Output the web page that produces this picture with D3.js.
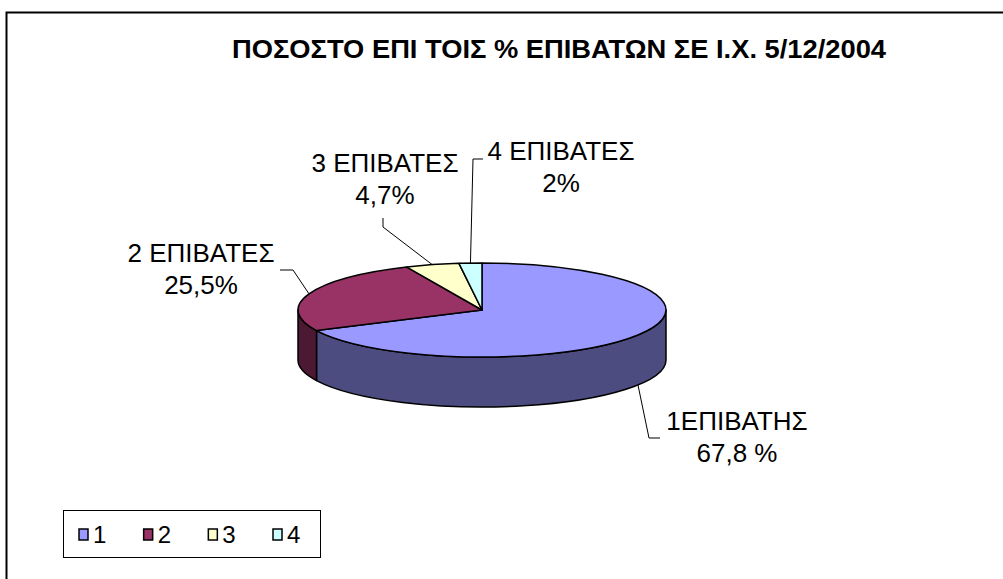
<!DOCTYPE html>
<html>
<head>
<meta charset="utf-8">
<script src="https://cdn.jsdelivr.net/npm/d3@7"></script>
<style>
body { margin: 0; background: #fff; }
svg { display: block; }
text { font-family: "Liberation Sans", Arial, sans-serif; fill: #000; }
</style>
</head>
<body>
<svg width="1003" height="579"></svg>
<script>
// data
var categories = ["1", "2", "3", "4"];
var values = [67.8, 25.5, 4.7, 2];
var labelNames = ["1ΕΠΙΒΑΤΗΣ", "2 ΕΠΙΒΑΤΕΣ", "3 ΕΠΙΒΑΤΕΣ", "4 ΕΠΙΒΑΤΕΣ"];
var labelValues = ["67,8 %", "25,5%", "4,7%", "2%"];
var title = "ΠΟΣΟΣΤΟ ΕΠΙ ΤΟΙΣ % ΕΠΙΒΑΤΩΝ ΣΕ Ι.Χ. 5/12/2004";

var topColors = ["#9999ff", "#993366", "#ffffcc", "#ccffff"];
var sideColors = ["#4c4c80", "#4c1933", "#808066", "#668080"];

// label layout (text centre, first baseline, leader elbow and end)
var labelLayout = [
    {x: 737, y: 430, elbow: [649, 438], end: [660, 438]},
    {x: 201, y: 262, elbow: [293, 270], end: [280, 270]},
    {x: 385, y: 172, elbow: [383, 227], end: [383, 218]},
    {x: 561, y: 160, elbow: [473, 159], end: [483, 159]}
];

var svg = d3.select("svg");
var cx = 482, cy = 310, rx = 184, ry = 47, depth = 50;

// chart border
svg.append("rect")
    .attr("x", 6.5).attr("y", 12.5)
    .attr("width", 1010).attr("height", 600)
    .style("fill", "none").style("stroke", "#000").style("stroke-width", 2);

svg.append("text")
    .attr("x", 559).attr("y", 58)
    .attr("text-anchor", "middle")
    .attr("textLength", 654).attr("lengthAdjust", "spacingAndGlyphs")
    .style("font-size", "26px").style("font-weight", "bold")
    .text(title);

var pie = d3.pie().sort(null).value(function (d) { return d; });
var arcs = pie(values);

function pt(t, dy) {
    return [cx + rx * Math.sin(t), cy - ry * Math.cos(t) + (dy || 0)];
}

// side walls (front half only)
var sides = svg.append("g");
arcs.forEach(function (d, i) {
    var a = Math.max(d.startAngle, Math.PI / 2),
        b = Math.min(d.endAngle, 3 * Math.PI / 2);
    if (b <= a) return;
    var large = (b - a) > Math.PI ? 1 : 0;
    var p0 = pt(a), p1 = pt(b), p2 = pt(b, depth), p3 = pt(a, depth);
    var path = "M" + p0 + "A" + rx + "," + ry + " 0 " + large + " 1 " + p1 +
        "L" + p2 + "A" + rx + "," + ry + " 0 " + large + " 0 " + p3 + "Z";
    sides.append("path")
        .attr("d", path)
        .style("fill", sideColors[i])
        .style("stroke", "#000").style("stroke-width", 1.5)
        .style("stroke-linejoin", "round");
});

// tops
var arc = d3.arc().innerRadius(0).outerRadius(rx);
svg.append("g")
    .attr("transform", "translate(" + cx + "," + cy + ") scale(1," + (ry / rx) + ")")
    .selectAll("path")
    .data(arcs)
    .enter()
    .append("path")
    .attr("d", arc)
    .attr("vector-effect", "non-scaling-stroke")
    .style("fill", function (d, i) { return topColors[i]; })
    .style("stroke", "#000").style("stroke-width", 1.5)
    .style("stroke-linejoin", "round");

// leader lines and labels
arcs.forEach(function (d, i) {
    var mid = (d.startAngle + d.endAngle) / 2;
    var start = pt(mid, Math.cos(mid) < 0 ? depth : 0);
    var L = labelLayout[i];
    svg.append("polyline")
        .attr("points", [start, L.elbow, L.end].join(" "))
        .style("fill", "none").style("stroke", "#000").style("stroke-width", 1);
    var t = svg.append("text")
        .attr("text-anchor", "middle")
        .style("font-size", "26px");
    t.append("tspan").attr("x", L.x).attr("y", L.y).text(labelNames[i]);
    t.append("tspan").attr("x", L.x).attr("y", L.y + 32).text(labelValues[i]);
});

// legend
var legend = svg.append("g");
legend.append("rect")
    .attr("x", 63.5).attr("y", 510.5).attr("width", 257).attr("height", 47)
    .style("fill", "#fff").style("stroke", "#000").style("stroke-width", 1);
var lx = d3.scalePoint().domain(categories).range([79, 273]);
var items = legend.selectAll("g.item")
    .data(categories)
    .enter()
    .append("g")
    .attr("class", "item")
    .attr("transform", function (d) { return "translate(" + lx(d) + ",529)"; });
items.append("rect")
    .attr("width", 9).attr("height", 11)
    .style("fill", function (d, i) { return topColors[i]; })
    .style("stroke", "#000").style("stroke-width", 1.5);
items.append("text")
    .attr("x", 14).attr("y", 14)
    .style("font-size", "24px")
    .text(function (d) { return d; });
</script>
</body>
</html>
